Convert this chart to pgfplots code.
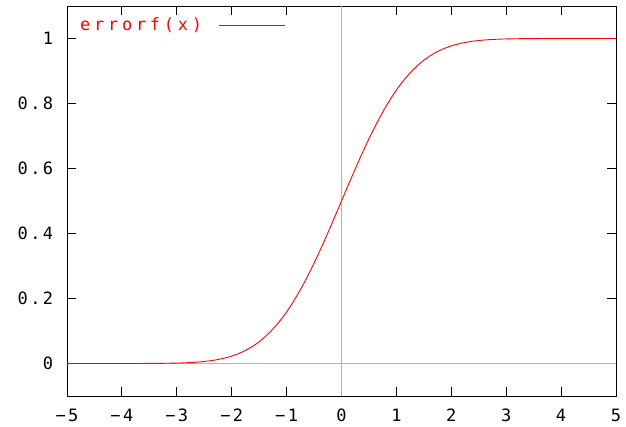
\documentclass[border=0pt]{standalone}
\usepackage{fontspec}
\setmainfont{DejaVu Sans Mono}[LetterSpace=14]
\newfontfamily\legfont{DejaVu Sans Mono}[LetterSpace=22]
\usepackage{pgfplots}
\pgfplotsset{compat=1.18}
\begin{document}
\fontsize{17bp}{20bp}\selectfont
\begin{tikzpicture}
\path[use as bounding box] (-67bp,-31bp) rectangle (559bp,396bp);
\begin{axis}[
  at={(0,0)}, anchor=south west,
  scale only axis, width=549bp, height=390bp,
  xmin=-5, xmax=5, ymin=-0.1, ymax=1.1,
  axis line style={black, line width=0.8bp},
  xtick={-5,-4,-3,-2,-1,1,2,3,4,5},
  xticklabels={−5,−4,−3,−2,−1,1,2,3,4,5},
  ytick={0.2,0.4,0.6,0.8,1},
  yticklabels={0.2,0.4,0.6,0.8,1},
  extra x ticks={0}, extra x tick labels={0},
  extra x tick style={major tick length=0pt, grid=major, major grid style={gray!60, line width=0.8bp}},
  extra y ticks={0}, extra y tick labels={0},
  extra y tick style={major tick length=0pt, grid=major, major grid style={gray!60, line width=0.8bp}},
  tick align=inside, major tick length=9bp,
  tick style={black, line width=0.8bp},
  xticklabel style={yshift=-7bp},
  yticklabel style={xshift=-8bp},
  ticklabel style={font=\fontsize{17bp}{20bp}\selectfont},
  legend style={draw=none, fill=none, anchor=west, at={(axis description cs:0.0145,0.95)},
    font=\fontsize{17bp}{20bp}\selectfont\legfont, text=red},
  legend plot pos=right,
  legend image code/.code={\path (0bp,0bp); \color{red}\fill[red, draw=none] (14bp,-0.5bp) rectangle (80bp,0.5bp);},
  legend cell align=left,
]
\addplot[red, line width=0.9bp] coordinates {
(-5,0.0000003)(-4.5,0.000003)(-4,0.000032)(-3.8,0.000072)(-3.6,0.000159)(-3.4,0.000337)(-3.2,0.000687)
(-3,0.00135)(-2.9,0.001866)(-2.8,0.002555)(-2.7,0.003467)(-2.6,0.004661)(-2.5,0.00621)
(-2.4,0.008198)(-2.3,0.010724)(-2.2,0.013903)(-2.1,0.017864)(-2,0.02275)
(-1.9,0.028717)(-1.8,0.03593)(-1.7,0.044565)(-1.6,0.054799)(-1.5,0.066807)
(-1.4,0.080757)(-1.3,0.0968)(-1.2,0.11507)(-1.1,0.135666)(-1,0.158655)
(-0.9,0.18406)(-0.8,0.211855)(-0.7,0.241964)(-0.6,0.274253)(-0.5,0.308538)
(-0.4,0.344578)(-0.3,0.382089)(-0.2,0.42074)(-0.1,0.460172)(0,0.5)
(0.1,0.539828)(0.2,0.57926)(0.3,0.617911)(0.4,0.655422)(0.5,0.691462)
(0.6,0.725747)(0.7,0.758036)(0.8,0.788145)(0.9,0.81594)(1,0.841345)
(1.1,0.864334)(1.2,0.88493)(1.3,0.9032)(1.4,0.919243)(1.5,0.933193)
(1.6,0.945201)(1.7,0.955435)(1.8,0.96407)(1.9,0.971283)(2,0.97725)
(2.1,0.982136)(2.2,0.986097)(2.3,0.989276)(2.4,0.991802)(2.5,0.99379)
(2.6,0.995339)(2.7,0.996533)(2.8,0.997445)(2.9,0.998134)(3,0.99865)
(3.2,0.999313)(3.4,0.999663)(3.6,0.999841)(3.8,0.999928)(4,0.999968)
(4.5,0.999997)(5,0.9999997)
};
\addlegendentry{errorf(x)}
\end{axis}
\end{tikzpicture}
\end{document}
